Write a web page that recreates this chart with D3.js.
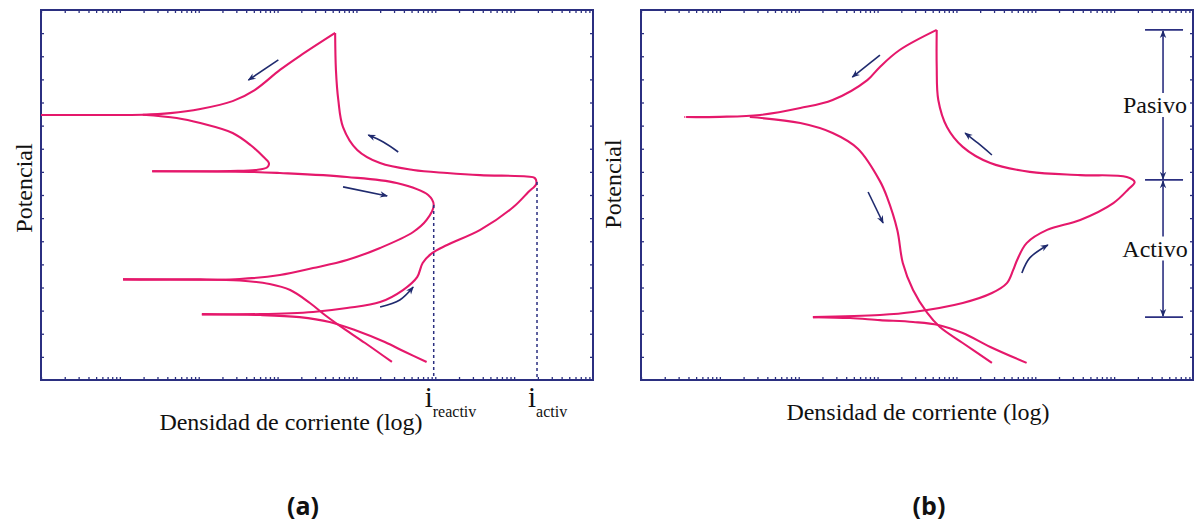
<!DOCTYPE html>
<html>
<head>
<meta charset="utf-8">
<script src="https://cdn.jsdelivr.net/npm/d3@7"></script>
<style>
  body { margin: 0; background: #fff; }
  svg { display: block; }
</style>
</head>
<body>
<div id="chart"></div>
<script>
// x = log10(current density), decades from the left edge; y = potential (tick units)
var decades = 7;
var potentialMax = 16;

// panel (a): curves as [logI, E]
var curvesA = [
  // forward scan: corrosion potential -> active nose -> passive peak
  [[2.04,2.85],[2.78,2.85],[3.45,2.94],[3.88,3.11],[4.30,3.37],[4.59,3.89],[4.77,4.45],[4.84,5.06],[4.96,5.49],
   [5.15,5.84],[5.57,6.49],[5.99,7.48],[6.18,8.13],[6.28,8.48],[6.26,8.74],[6.16,8.80],[5.57,8.86],[5.15,8.95],
   [4.72,9.08],[4.30,9.38],[4.01,9.95],[3.83,10.94],[3.77,12.11],[3.74,13.41],[3.73,15.01]],
  // reverse from peak
  [[3.73,15.01],[3.28,14.01],[3.03,13.41],[2.71,12.54],[2.43,12.06],[2.02,11.72],[1.64,11.54],[1.29,11.47],[0.62,11.46],[0,11.46]],
  [[1.29,11.47],[1.72,11.33],[2.02,11.11],[2.43,10.68],[2.66,10.15],[2.82,9.65],[2.89,9.38],[2.87,9.20],[2.72,9.08],[2.40,9.04],[1.41,9.03]],
  [[1.41,9.03],[2.65,9.00],[3.03,8.95],[3.88,8.78],[4.51,8.52],[4.91,8.00],[4.98,7.57],[4.89,6.92],[4.72,6.40],
   [4.30,5.71],[3.88,5.19],[3.45,4.84],[3.03,4.54],[2.52,4.37],[1.04,4.35]],
  [[1.04,4.35],[2.02,4.35],[2.52,4.30],[2.90,4.15],[3.16,3.89],[3.41,3.33],[3.60,2.81],[3.79,2.34],[4.11,1.60],[4.45,0.78]],
  [[2.04,2.83],[2.78,2.81],[3.28,2.72],[3.66,2.51],[3.98,2.16],[4.36,1.64],[4.62,1.21],[4.89,0.78]]
];
var arrowsA = [
  [[3.01,13.84],[2.63,12.97]],
  [[4.53,9.86],[4.34,10.29],[4.15,10.59]],
  [[3.83,8.35],[4.39,7.96]],
  [[4.30,3.16],[4.55,3.46],[4.72,4.02]]
];
var markersA = [
  { name: "reactiv", logI: 4.98, e: 7.57 },
  { name: "activ", logI: 6.29, e: 8.56 }
];

// panel (b)
var curvesB = [
  [[2.18,2.72],[3.03,2.81],[3.45,2.94],[4.08,3.33],[4.45,3.76],[4.64,4.19],[4.72,4.76],[4.77,5.19],[4.89,5.92],
   [5.15,6.49],[5.57,6.92],[5.99,7.65],[6.18,8.25],[6.26,8.56],[6.16,8.78],[5.57,8.86],[4.93,9.00],[4.43,9.38],
   [4.08,10.08],[3.88,10.94],[3.77,12.11],[3.75,13.54],[3.75,15.14]],
  [[3.75,15.14],[3.28,14.27],[3.03,13.54],[2.87,12.97],[2.43,12.11],[2.02,11.76],[1.51,11.46],[1.00,11.38],[0.56,11.37]],
  [[1.38,11.37],[2.02,11.11],[2.43,10.68],[2.75,10.00],[3.03,8.60],[3.12,7.91],[3.25,6.49],[3.32,5.06],[3.45,3.89],
   [3.63,2.90],[3.79,2.29],[4.08,1.60],[4.45,0.74]],
  [[2.18,2.72],[2.65,2.68],[3.03,2.59],[3.45,2.51],[3.77,2.38],[4.08,2.03],[4.43,1.43],[4.89,0.74]]
];
var arrowsB = [
  [[3.03,14.05],[2.68,13.10]],
  [[4.45,9.73],[4.27,10.25],[4.11,10.68]],
  [[2.88,8.13],[3.07,6.79]],
  [[4.83,4.63],[4.93,5.28],[5.16,5.84]]
];
var zoneLevels = [15.14, 8.65, 2.72];
var zoneNames = ["Pasivo", "Activo"];
var zoneLogI = 6.62;

var width = 1195, height = 524;
var plotW = 552, plotH = 370;
var curveColor = "#e5186b";
var navy = "#2b2f80";
var arrowColor = "#1f2a6e";
var serif = "'Liberation Serif', 'Times New Roman', serif";

var svg = d3.select("#chart").append("svg")
  .attr("width", width)
  .attr("height", height)
  .style("background", "#fff");

var defs = svg.append("defs");
defs.append("marker")
  .attr("id", "head")
  .attr("viewBox", "0 -5 10 10")
  .attr("refX", 9).attr("refY", 0)
  .attr("markerWidth", 11).attr("markerHeight", 8)
  .attr("markerUnits", "userSpaceOnUse")
  .attr("orient", "auto-start-reverse")
  .append("path")
  .attr("d", "M0,-4L10,0L0,4L3,0Z")
  .attr("fill", arrowColor);

var x = d3.scaleLinear().domain([0, decades]).range([0, plotW]);
var y = d3.scaleLinear().domain([0, potentialMax]).range([plotH, 0]);

var logTicks = [];
for (var dcd = 0; dcd < decades; dcd++) {
  for (var k = 1; k <= 9; k++) logTicks.push(dcd + Math.log10(k));
}

var line = d3.line()
  .x(d => x(d[0]))
  .y(d => y(d[1]))
  .curve(d3.curveCatmullRom.alpha(0.5));

function drawPanel(g, curves, arrows) {
  // ticks
  g.append("g").call(d3.axisLeft(y).tickValues(d3.range(1, potentialMax)).tickSize(-3).tickFormat(""));
  g.append("g").attr("transform", `translate(${plotW},0)`)
    .call(d3.axisRight(y).tickValues(d3.range(1, potentialMax)).tickSize(-3).tickFormat(""));
  g.append("g").call(d3.axisTop(x).tickValues(logTicks).tickSize(-3).tickFormat(""));
  g.append("g").attr("transform", `translate(0,${plotH})`)
    .call(d3.axisBottom(x).tickValues(logTicks).tickSize(-3).tickFormat(""));
  g.selectAll(".domain").remove();
  g.selectAll(".tick line").attr("stroke", navy).attr("stroke-width", 1.3);

  g.append("rect")
    .attr("width", plotW).attr("height", plotH)
    .attr("fill", "none")
    .attr("stroke", navy)
    .attr("stroke-width", 2);

  g.selectAll(".curve").data(curves).enter()
    .append("path")
    .attr("class", "curve")
    .attr("d", line)
    .attr("fill", "none")
    .attr("stroke", curveColor)
    .attr("stroke-width", 2.1);

  g.selectAll(".arrow").data(arrows).enter()
    .append("path")
    .attr("class", "arrow")
    .attr("d", line)
    .attr("fill", "none")
    .attr("stroke", arrowColor)
    .attr("stroke-width", 1.6)
    .attr("marker-end", "url(#head)");
}

// ---- panel (a)
var gA = svg.append("g").attr("transform", "translate(41,10)");
drawPanel(gA, curvesA, arrowsA);

gA.selectAll(".drop").data(markersA).enter()
  .append("line")
  .attr("x1", d => x(d.logI)).attr("x2", d => x(d.logI))
  .attr("y1", d => y(d.e)).attr("y2", plotH)
  .attr("stroke", navy)
  .attr("stroke-width", 1.5)
  .attr("stroke-dasharray", "3,3");

markersA.forEach(function(m) {
  var t = gA.append("text")
    .attr("x", x(m.logI) - 9)
    .attr("y", 397)
    .attr("font-family", serif)
    .attr("fill", "#111");
  t.append("tspan").attr("font-size", 29).text("i");
  t.append("tspan").attr("font-size", 16).attr("dy", 10).text(m.name);
});

gA.append("text")
  .attr("x", 250).attr("y", 420)
  .attr("text-anchor", "middle")
  .attr("font-family", serif).attr("font-size", 24)
  .attr("fill", "#111")
  .text("Densidad de corriente (log)");

gA.append("text")
  .attr("transform", "translate(-9,178) rotate(-90)")
  .attr("text-anchor", "middle")
  .attr("font-family", serif).attr("font-size", 24)
  .attr("fill", "#111")
  .text("Potencial");

// ---- panel (b)
var gB = svg.append("g").attr("transform", "translate(641,10)");
drawPanel(gB, curvesB, arrowsB);

var zx = x(zoneLogI);
gB.selectAll(".cap").data(zoneLevels).enter()
  .append("line")
  .attr("x1", zx - 18).attr("x2", zx + 20)
  .attr("y1", d => y(d)).attr("y2", d => y(d))
  .attr("stroke", navy).attr("stroke-width", 1.8);

zoneNames.forEach(function(name, i) {
  var top = y(zoneLevels[i]), bot = y(zoneLevels[i + 1]);
  var mid = (top + bot) / 2;
  gB.append("line")
    .attr("x1", zx).attr("x2", zx)
    .attr("y1", mid - 12).attr("y2", top + 1)
    .attr("stroke", navy).attr("stroke-width", 1.6)
    .attr("marker-end", "url(#head)");
  gB.append("line")
    .attr("x1", zx).attr("x2", zx)
    .attr("y1", mid + 12).attr("y2", bot - 1)
    .attr("stroke", navy).attr("stroke-width", 1.6)
    .attr("marker-end", "url(#head)");
  gB.append("text")
    .attr("x", zx - 8).attr("y", mid + 8)
    .attr("text-anchor", "middle")
    .attr("font-family", serif).attr("font-size", 24)
    .attr("fill", "#111")
    .text(name);
});

gB.append("text")
  .attr("x", 277).attr("y", 410)
  .attr("text-anchor", "middle")
  .attr("font-family", serif).attr("font-size", 24)
  .attr("fill", "#111")
  .text("Densidad de corriente (log)");

gB.append("text")
  .attr("transform", "translate(-20,174) rotate(-90)")
  .attr("text-anchor", "middle")
  .attr("font-family", serif).attr("font-size", 24)
  .attr("fill", "#111")
  .text("Potencial");

// panel letters
svg.selectAll(".plabel").data(["(a)", "(b)"]).enter()
  .append("text")
  .attr("x", (d, i) => i === 0 ? 303 : 929)
  .attr("y", 515)
  .attr("text-anchor", "middle")
  .attr("font-family", "'Open Sans', 'Noto Sans', sans-serif")
  .attr("font-weight", "bold")
  .attr("font-size", 25)
  .attr("fill", "#111")
  .text(d => d);
</script>
</body>
</html>
